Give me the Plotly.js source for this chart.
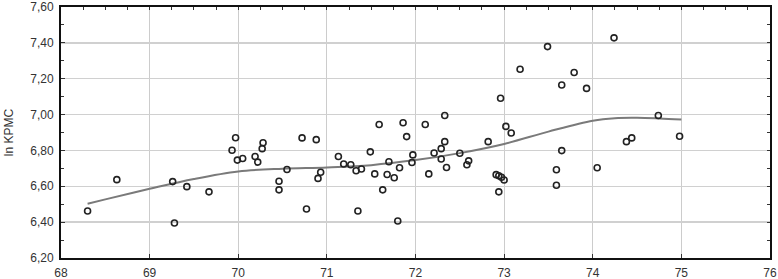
<!DOCTYPE html>
<html><head><meta charset="utf-8">
<script src="https://cdn.plot.ly/plotly-3.0.1.min.js"></script>
<style>html,body{margin:0;padding:0;background:#fff}#chart{width:778px;height:279px}</style>
</head><body><div id="chart"></div>
<script>
const pointsX = [68.30,68.63,69.26,69.28,69.42,69.67,69.93,69.97,69.99,70.05,70.19,70.22,70.27,70.28,
70.46,70.46,70.55,70.72,70.77,70.88,70.90,70.93,71.13,71.19,71.27,71.33,71.35,71.39,71.49,71.54,71.59,
71.63,71.68,71.70,71.76,71.80,71.82,71.86,71.90,71.96,71.97,72.11,72.15,72.21,72.29,72.29,72.33,72.33,
72.35,72.50,72.58,72.60,72.82,72.91,72.94,72.97,73.00,72.94,72.96,73.02,73.08,73.18,73.49,73.65,73.79,
73.93,73.65,73.59,73.59,74.05,74.24,74.38,74.44,74.74,74.98];
const pointsY = [6.462,6.637,6.626,6.395,6.598,6.569,6.801,6.871,6.746,6.755,6.766,6.735,6.810,6.843,
6.628,6.580,6.694,6.870,6.473,6.860,6.644,6.678,6.766,6.724,6.720,6.687,6.462,6.696,6.792,6.669,6.945,
6.580,6.666,6.737,6.648,6.406,6.703,6.954,6.877,6.733,6.775,6.945,6.669,6.786,6.810,6.752,6.849,6.995,
6.705,6.784,6.720,6.742,6.849,6.665,6.659,6.650,6.635,6.569,7.091,6.934,6.897,7.253,7.379,7.165,7.235,
7.146,6.799,6.692,6.606,6.703,7.428,6.849,6.870,6.995,6.879];
const curveX = [68.3,68.5,69.0,69.5,70.0,70.5,71.0,71.5,72.0,72.5,73.0,73.5,74.0,74.25,74.5,74.75,75.0];
const curveY = [6.503,6.527,6.586,6.641,6.683,6.698,6.705,6.718,6.746,6.785,6.836,6.905,6.966,6.980,6.982,6.978,6.972];
const xTicks = [68,69,70,71,72,73,74,75,76];
const yTicks = [6.2,6.4,6.6,6.8,7.0,7.2,7.4,7.6];
const yTitle = 'ln KPMC';

const font = {family:'Liberation Sans, Arial, sans-serif', size:12, color:'#333'};
const data = [
  {x:curveX, y:curveY, mode:'lines', line:{color:'#7a7a7a', width:2, shape:'spline'}, hoverinfo:'skip'},
  {x:pointsX, y:pointsY, mode:'markers', marker:{symbol:'circle-open', size:6, color:'#222', line:{width:1.6, color:'#222'}}},
  {x:[], y:[], xaxis:'x2', yaxis:'y2', mode:'markers'}
];
const layout = {
  width:778, height:279, showlegend:false,
  separators:', ',
  paper_bgcolor:'#fff', plot_bgcolor:'#fff',
  margin:{l:61, r:8, t:7, b:21},
  font:font,
  xaxis:{range:[68,76.0000001], tickvals:xTicks, ticktext:xTicks.map(String), showgrid:true, gridcolor:'#cccccc', gridwidth:1,
    zeroline:false, showline:true, linecolor:'#111', linewidth:2, ticks:'inside', ticklen:4, tickcolor:'#333',
    tickfont:font, ticklabelstandoff:3, ticklabeloverflow:'allow'},
  xaxis2:{overlaying:'x', side:'top', range:[68,76], dtick:0.25, tick0:68, showticklabels:false, showgrid:false,
    zeroline:false, showline:true, linecolor:'#111', linewidth:2, ticks:'inside', ticklen:3, tickcolor:'#333'},
  yaxis:{range:[6.2,7.6000001], tickvals:yTicks, tickformat:'.2f', showgrid:true, gridcolor:'#d0d0d0', gridwidth:1.3,
    zeroline:false, showline:true, linecolor:'#111', linewidth:2, ticks:'inside', ticklen:4, tickcolor:'#333',
    minor:{dtick:0.1, ticks:'inside', ticklen:3, tickcolor:'#333', showgrid:false}, tickfont:font, ticklabelstandoff:3,
    ticklabeloverflow:'allow', title:{text:yTitle, font:font, standoff:14}},
  yaxis2:{overlaying:'y', side:'right', anchor:'x', range:[6.2,7.6], dtick:0.1, tick0:6.2, showticklabels:false, showgrid:false,
    zeroline:false, showline:true, linecolor:'#111', linewidth:2, ticks:'inside', ticklen:3, tickcolor:'#333'}
};
Plotly.newPlot('chart', data, layout, {staticPlot:true});
</script></body></html>
